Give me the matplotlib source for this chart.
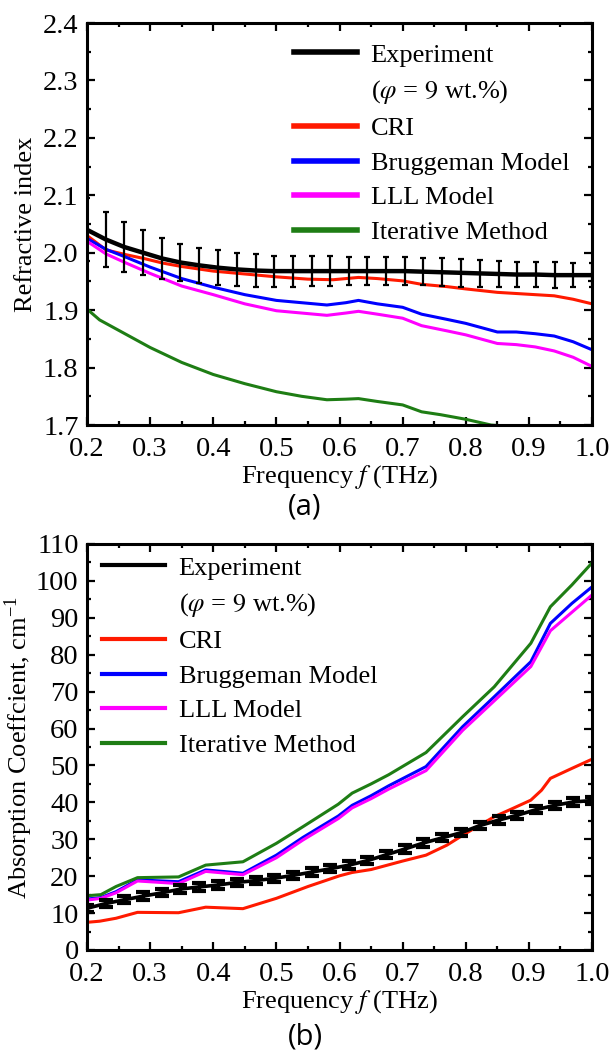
import numpy as np
import matplotlib
matplotlib.use("Agg")
import matplotlib.pyplot as plt
from matplotlib.ticker import MultipleLocator
from matplotlib.lines import Line2D

plt.rcParams['font.family'] = ['Liberation Serif', 'DejaVu Serif']
plt.rcParams['mathtext.fontset'] = 'stix'

# ---- panel (a): refractive index ----
exp_f = [0.200, 0.230, 0.259, 0.289, 0.319, 0.348, 0.378, 0.407, 0.437, 0.467,
         0.496, 0.526, 0.556, 0.585, 0.615, 0.644, 0.674, 0.704, 0.733, 0.763,
         0.793, 0.822, 0.852, 0.881, 0.911, 0.941, 0.970, 1.000]
exp_n = [2.040, 2.023, 2.010, 2.000, 1.990, 1.983, 1.978, 1.974, 1.971, 1.969,
         1.968, 1.968, 1.968, 1.968, 1.968, 1.968, 1.968, 1.968, 1.967, 1.966,
         1.965, 1.964, 1.963, 1.962, 1.962, 1.961, 1.961, 1.961]
exp_n_err = [0.055, 0.048, 0.043, 0.039, 0.036, 0.033, 0.031, 0.030, 0.029, 0.028,
             0.027, 0.027, 0.026, 0.026, 0.025, 0.025, 0.025, 0.025, 0.024, 0.024,
             0.024, 0.023, 0.023, 0.022, 0.022, 0.022, 0.021, 0.021]

cri_f = [0.2, 0.23, 0.26, 0.29, 0.32, 0.35, 0.4, 0.45, 0.5, 0.55, 0.59, 0.63,
         0.66, 0.7, 0.73, 0.77, 0.8, 0.85, 0.88, 0.91, 0.94, 0.97, 1.0]
cri_n = [2.030, 2.005, 1.997, 1.990, 1.982, 1.976, 1.968, 1.963, 1.958, 1.954,
         1.953, 1.957, 1.955, 1.951, 1.945, 1.941, 1.937, 1.931, 1.929, 1.927,
         1.925, 1.919, 1.911]

model_f = [0.2, 0.23, 0.26, 0.3, 0.35, 0.4, 0.45, 0.5, 0.54, 0.58, 0.61, 0.63,
           0.66, 0.7, 0.73, 0.77, 0.8, 0.85, 0.88, 0.91, 0.94, 0.97, 1.0]
brug_n = [2.025, 2.006, 1.993, 1.975, 1.955, 1.940, 1.927, 1.917, 1.913, 1.909,
          1.913, 1.917, 1.911, 1.905, 1.893, 1.884, 1.877, 1.862, 1.862, 1.859,
          1.855, 1.845, 1.831]
lll_n = [2.020, 1.998, 1.983, 1.964, 1.942, 1.927, 1.911, 1.899, 1.895, 1.891,
         1.895, 1.898, 1.893, 1.886, 1.873, 1.864, 1.857, 1.842, 1.840, 1.836,
         1.829, 1.818, 1.802]

iter_f = [0.2, 0.22, 0.25, 0.3, 0.35, 0.4, 0.45, 0.5, 0.54, 0.58, 0.61, 0.63,
          0.66, 0.7, 0.73, 0.76, 0.8, 0.84, 0.88, 0.92, 0.96, 1.0]
iter_n = [1.902, 1.883, 1.865, 1.835, 1.809, 1.788, 1.772, 1.758, 1.750, 1.744,
          1.745, 1.746, 1.741, 1.735, 1.723, 1.718, 1.710, 1.700, 1.697, 1.693,
          1.688, 1.684]

# ---- panel (b): absorption coefficient ----
exp_a = [11.3, 12.6, 13.6, 14.6, 15.5, 16.5, 17.1, 17.6, 18.3, 18.8,
         19.4, 20.2, 21.1, 22.0, 23.0, 24.2, 25.8, 27.4, 29.0, 30.4,
         31.8, 33.7, 35.2, 36.5, 38.0, 39.2, 40.1, 40.5]
exp_a_err = [1.0] * 28

cri_af = [0.2, 0.22, 0.246, 0.28, 0.345, 0.388, 0.447, 0.5, 0.55, 0.6, 0.62, 0.65,
          0.7, 0.737, 0.77, 0.8, 0.845, 0.875, 0.903, 0.92, 0.934, 0.968, 1.0]
cri_a = [7.5, 7.8, 8.6, 10.2, 10.1, 11.6, 11.2, 14.0, 17.2, 20.1, 21.0, 21.8,
         24.1, 25.7, 28.4, 31.6, 36.1, 38.4, 40.6, 43.3, 46.5, 49.2, 51.7]

model_af = [0.2, 0.222, 0.246, 0.28, 0.345, 0.388, 0.447, 0.5, 0.542, 0.598,
            0.62, 0.65, 0.678, 0.737, 0.795, 0.845, 0.903, 0.934, 0.968, 1.0]
brug_a = [13.8, 14.2, 15.8, 19.0, 18.5, 21.7, 20.8, 25.7, 30.5, 36.3,
          39.2, 41.8, 44.5, 49.7, 60.5, 68.6, 78.1, 88.5, 93.9, 98.4]
lll_a = [13.5, 14.0, 15.5, 18.7, 18.0, 21.3, 20.4, 25.0, 29.8, 35.6,
         38.5, 41.0, 43.6, 48.6, 59.5, 67.5, 76.8, 86.5, 91.5, 96.2]
iter_a = [14.7, 15.0, 17.2, 19.6, 19.8, 23.0, 23.9, 28.9, 33.4, 39.5,
          42.5, 45.0, 47.5, 53.5, 63.2, 71.3, 83.1, 93.0, 98.9, 104.9]

FS = 19
TICK_FS = 20.5
RED, BLUE, MAG, GREEN = '#ff1a00', '#0000ff', '#ff00ff', '#1e7d14'


def style_axes(ax, ymaj, ymin_):
    ax.xaxis.set_major_locator(MultipleLocator(0.1))
    ax.xaxis.set_minor_locator(MultipleLocator(0.05))
    ax.yaxis.set_major_locator(MultipleLocator(ymaj))
    ax.yaxis.set_minor_locator(MultipleLocator(ymin_))
    ax.tick_params(which='both', direction='in', top=True, right=True,
                   labelsize=TICK_FS, width=1.6)
    ax.tick_params(axis='x', which='both', pad=8.5)
    ax.tick_params(axis='y', which='both', pad=6)
    ax.tick_params(which='major', length=5.5)
    ax.tick_params(which='minor', length=3)
    for sp in ax.spines.values():
        sp.set_linewidth(2.2)


def add_legend(ax, handles, anchor, loc):
    labels = ['Experiment', r'($\varphi$ = $\mathit{9}$ wt.%)', 'CRI',
              'Bruggeman Model', 'LLL Model', 'Iterative Method']
    leg = ax.legend(handles, labels, loc=loc, bbox_to_anchor=anchor,
                    frameon=False, fontsize=FS, handlelength=2.4,
                    handletextpad=0.5, labelspacing=0.42, borderpad=0,
                    borderaxespad=0)
    return leg


fig = plt.figure(figsize=(6.10, 10.51), dpi=100)
ax1 = fig.add_axes([0.1426, 0.5956, 0.828, 0.3825])
ax2 = fig.add_axes([0.1426, 0.0961, 0.828, 0.3863])

# panel (a)
ax1.errorbar(exp_f, exp_n, yerr=exp_n_err, color='black', lw=3.2,
             elinewidth=1.6, capsize=2, capthick=1.6, zorder=5)
ax1.plot(cri_f, cri_n, color=RED, lw=2.2)
ax1.plot(model_f, brug_n, color=BLUE, lw=2.2)
ax1.plot(model_f, lll_n, color=MAG, lw=2.2)
ax1.plot(iter_f, iter_n, color=GREEN, lw=2.2)
ax1.set_xlim(0.2, 1.0)
ax1.set_ylim(1.7, 2.4)
style_axes(ax1, 0.1, 0.05)
ax1.set_xlabel(r'Frequency $f$ (THz)', fontsize=FS, labelpad=1)
ax1.set_ylabel('Refractive index', fontsize=FS, labelpad=4)
h1 = [Line2D([], [], color='black', lw=4),
      Line2D([], [], color='none'),
      Line2D([], [], color=RED, lw=4),
      Line2D([], [], color=BLUE, lw=4),
      Line2D([], [], color=MAG, lw=4),
      Line2D([], [], color=GREEN, lw=4)]
add_legend(ax1, h1, (0.41, 0.95), 'upper left')

# panel (b)
ax2.errorbar(exp_f, exp_a, yerr=exp_a_err, color='black', lw=2.6,
             elinewidth=2.4, capsize=5, capthick=3, zorder=5)
ax2.plot(cri_af, cri_a, color=RED, lw=2.2)
ax2.plot(model_af, brug_a, color=BLUE, lw=2.2)
ax2.plot(model_af, lll_a, color=MAG, lw=2.2)
ax2.plot(model_af, iter_a, color=GREEN, lw=2.2)
ax2.set_xlim(0.2, 1.0)
ax2.set_ylim(0, 110)
style_axes(ax2, 10, 5)
ax2.set_xlabel(r'Frequency $f$ (THz)', fontsize=FS, labelpad=1)
ax2.set_ylabel(r'Absorption Coeffcient, cm$^{\mathregular{-1}}$', fontsize=FS,
               labelpad=1)
h2 = [Line2D([], [], color='black', lw=3),
      Line2D([], [], color='none'),
      Line2D([], [], color=RED, lw=3),
      Line2D([], [], color=BLUE, lw=3),
      Line2D([], [], color=MAG, lw=3),
      Line2D([], [], color=GREEN, lw=3)]
add_legend(ax2, h2, (0.03, 0.97), 'upper left')

fig.text(0.5, 1 - 507 / 1051, '(a)', ha='center', va='center',
         fontsize=21, family=['Open Sans', 'DejaVu Sans'])
fig.text(0.5, 1 - 1037 / 1051, '(b)', ha='center', va='center',
         fontsize=21, family=['Open Sans', 'DejaVu Sans'])

fig.savefig('out.png', dpi=100)
